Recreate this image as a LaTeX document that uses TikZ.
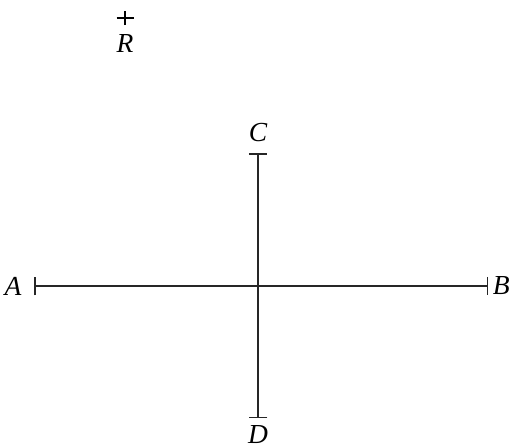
\documentclass[tikz,border=0pt]{standalone}
\usepackage{fontspec}
\setmainfont{Liberation Serif}
\usetikzlibrary{arrows.meta,positioning}
\tikzset{seg/.style={line width=0.6pt,draw=black!85,{Bar[width=7.4pt,line width=0.6pt]}-{Bar[width=7.4pt,line width=0.6pt]}},
  lbl/.style={inner sep=0pt,font=\fontsize{11}{13}\selectfont\itshape},
  pt/.style={line width=0.5pt}}
\begin{document}
\begin{tikzpicture}[x=0.4pt,y=-0.4pt]
\useasboundingbox (0,0) rectangle (510,446);
\coordinate (a) at (34,286);
\coordinate (b) at (488,286);
\coordinate (c) at (258,153);
\coordinate (d) at (258,418);
\coordinate (r) at (125,18);
\draw[seg] (a)--(b);
\draw[seg] (c)--(d);
\draw[pt] ([xshift=-3.4pt]r)--([xshift=3.4pt]r) ([yshift=-2.9pt]r)--([yshift=2.9pt]r);
\node[lbl,left=1.7mm of a] (la) {A};
\node[lbl,right=0.6mm of b] (lb) {B};
\node[lbl,above=1.5mm of c] (lc) {C};
\node[lbl,below=1mm of d] (ld) {D};
\node[lbl,below=2.2mm of r] (lr) {R};
\end{tikzpicture}
\end{document}
